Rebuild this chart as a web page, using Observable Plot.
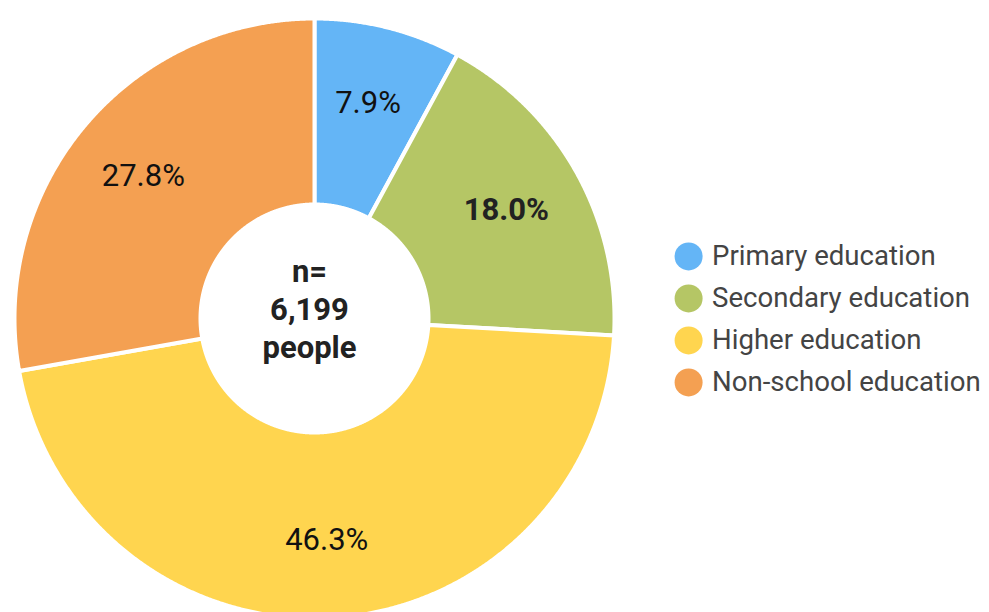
<!DOCTYPE html>
<html>
<head>
<meta charset="utf-8">
<script src="https://cdn.jsdelivr.net/npm/d3@7"></script>
<script src="https://cdn.jsdelivr.net/npm/@observablehq/plot@0.6"></script>
<style>
  html, body { margin: 0; padding: 0; background: #fff; }
  #chart { width: 989px; height: 612px; overflow: hidden; }
</style>
</head>
<body>
<div id="chart"></div>
<script>
// ---- data ----
const categories = ["Primary education", "Secondary education", "Higher education", "Non-school education"];
const shares = [7.9, 18.0, 46.3, 27.8];
const sliceLabels = ["7.9%", "18.0%", "46.3%", "27.8%"];
const boldLabels = [false, true, false, false];
const colors = ["#64b5f6", "#b5c665", "#ffd54f", "#f4a052"];
const centerLines = ["n=", "6,199", "people"];

// ---- layout ----
const W = 989, H = 612;
const cx = 314, cy = 318, R = 300;       // pixel centre / outer radius
const innerR = 0.38, labelR = 0.74;       // in units of R
const legendX = 1.247, legendTextX = 1.325, legendTop = 0.207, legendGap = 0.14;

// ---- geometry from values ----
const arcs = d3.pie().sort(null).value(d => d)(shares);
const slicePts = arcs.map((a, i) => {
  const pts = [];
  const n = Math.max(8, Math.ceil((a.endAngle - a.startAngle) / 0.004));
  for (let k = 0; k <= n; k++) {
    const t = a.startAngle + (a.endAngle - a.startAngle) * k / n;
    pts.push({cat: categories[i], x: Math.sin(t), y: Math.cos(t)});
  }
  for (let k = n; k >= 0; k--) {
    const t = a.startAngle + (a.endAngle - a.startAngle) * k / n;
    pts.push({cat: categories[i], x: innerR * Math.sin(t), y: innerR * Math.cos(t)});
  }
  pts.push({...pts[0]});
  return pts;
});
const labelData = arcs.map((a, i) => {
  const m = (a.startAngle + a.endAngle) / 2;
  return {text: sliceLabels[i], bold: boldLabels[i], x: labelR * Math.sin(m), y: labelR * Math.cos(m)};
});
const legendData = categories.map((c, i) => ({cat: c, x: legendX, tx: legendTextX, y: legendTop - i * legendGap}));

const marks = [];
slicePts.forEach((pts, i) => {
  marks.push(Plot.line(pts, {x: "x", y: "y", fill: colors[i], stroke: "white", strokeWidth: 4, strokeLinejoin: "round"}));
});
marks.push(Plot.text(labelData.filter(d => !d.bold), {x: "x", y: "y", text: "text", fontSize: 31, fill: "#111", dx: -1}));
marks.push(Plot.text(labelData.filter(d => d.bold), {x: "x", y: "y", text: "text", fontSize: 31, fontWeight: "bold", fill: "#222", dx: -2}));
marks.push(Plot.text([centerLines.join("\n")], {x: 0, y: 0, text: d => d, fontSize: 31, fontWeight: "bold", fill: "#222", lineHeight: 1.23, dy: -11, dx: -5}));
marks.push(Plot.dot(legendData, {x: "x", y: "y", r: 14, fill: "cat", stroke: null}));
marks.push(Plot.text(legendData, {x: "tx", y: "y", text: "cat", textAnchor: "start", fontSize: 27.6, fill: "#444"}));

const chart = Plot.plot({
  width: W, height: H,
  margin: 0,
  style: {fontFamily: "Roboto, sans-serif", background: "white"},
  x: {domain: [-1, 1], range: [cx - R, cx + R], axis: null},
  y: {domain: [-1, 1], range: [cy + R, cy - R], axis: null},
  color: {domain: categories, range: colors},
  marks
});
document.getElementById("chart").appendChild(chart);
</script>
</body>
</html>
